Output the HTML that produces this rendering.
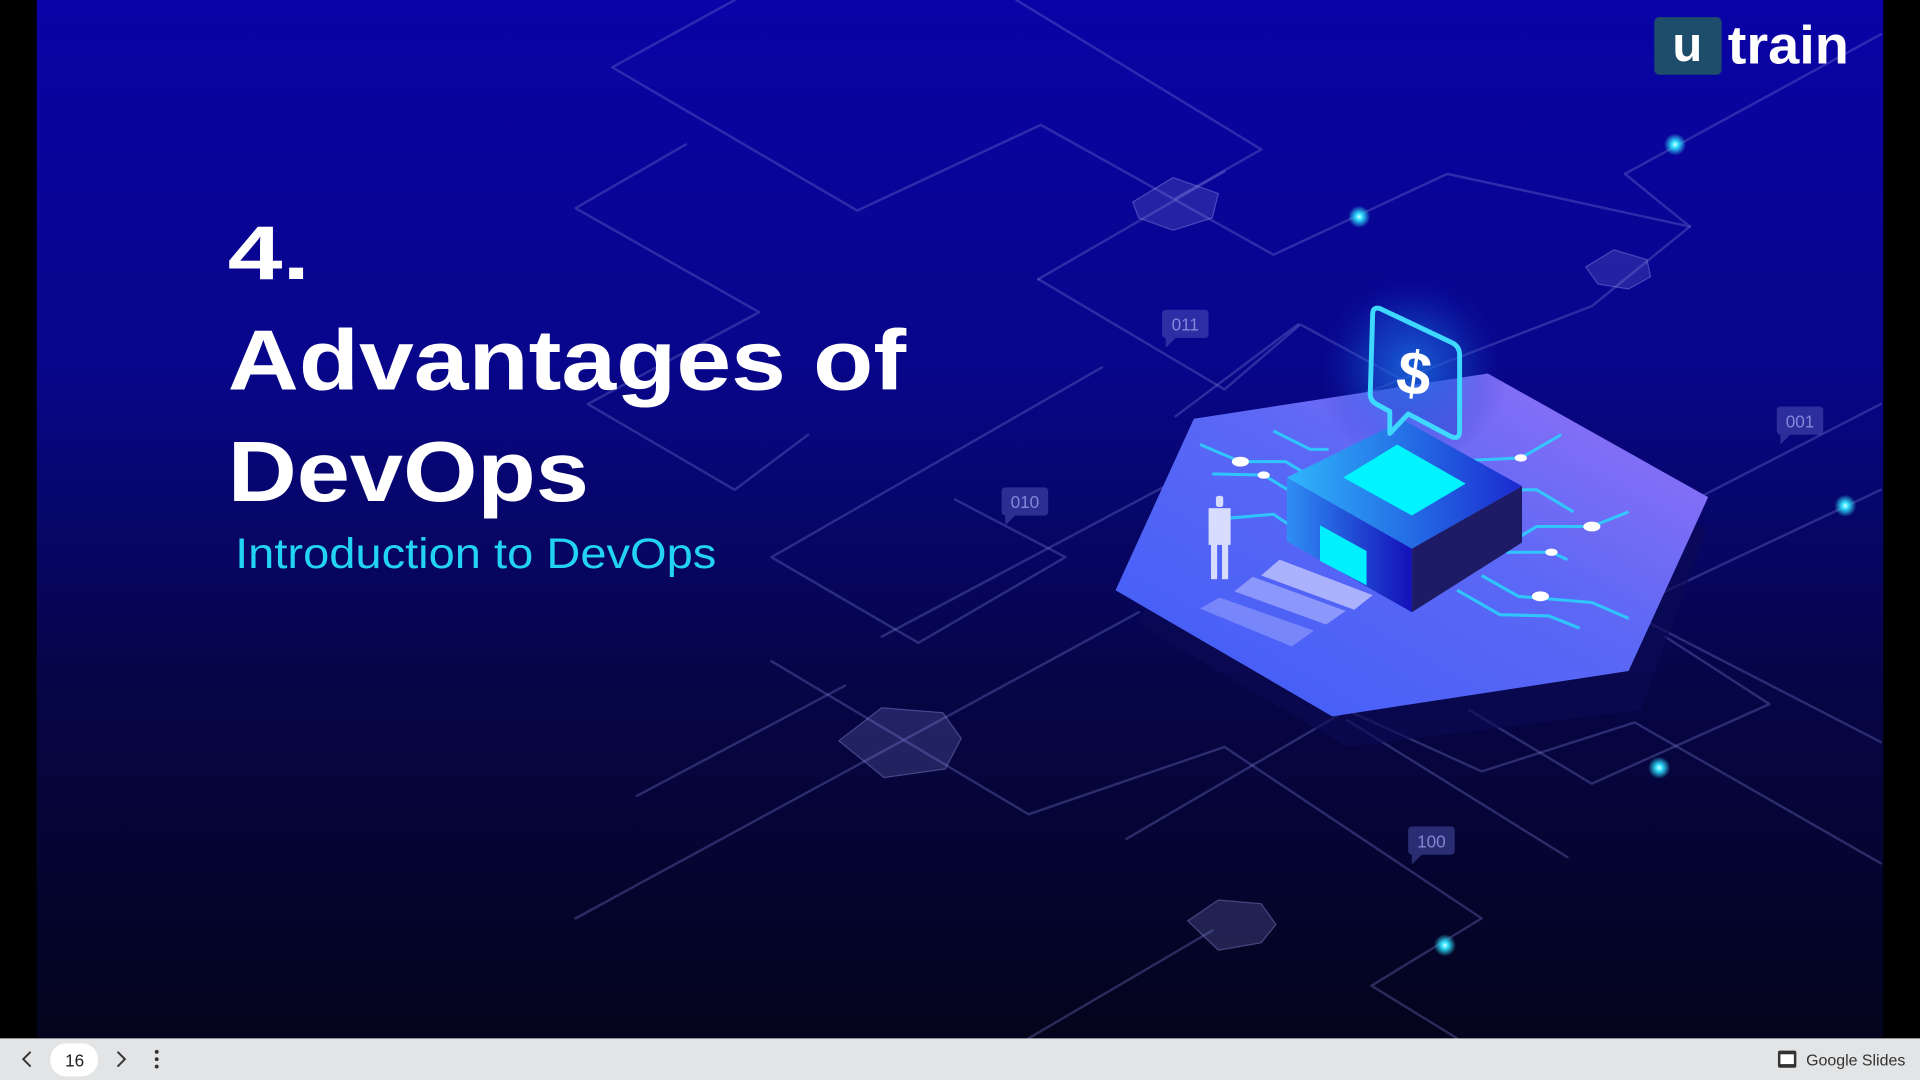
<!DOCTYPE html>
<html><head><meta charset="utf-8"><style>
html,body{margin:0;padding:0;width:1920px;height:1080px;overflow:hidden;background:#000}
svg{display:block}
</style></head><body>
<svg width="1920" height="1080" viewBox="0 0 1568 882" preserveAspectRatio="none" xmlns="http://www.w3.org/2000/svg">
<defs>
<linearGradient id="bg" x1="0" y1="0" x2="0" y2="1">
<stop offset="0" stop-color="#0a03a6"/>
<stop offset="0.35" stop-color="#08068a"/>
<stop offset="0.65" stop-color="#060548"/>
<stop offset="1" stop-color="#04041c"/>
</linearGradient>
<linearGradient id="hex" x1="0" y1="1" x2="1" y2="0">
<stop offset="0" stop-color="#3f5cf8"/>
<stop offset="0.55" stop-color="#5c68f5"/>
<stop offset="1" stop-color="#9b72f6"/>
</linearGradient>
<linearGradient id="lf" x1="0" y1="0" x2="1" y2="0">
<stop offset="0" stop-color="#2f8ff5"/>
<stop offset="1" stop-color="#1410b8"/>
</linearGradient>
<linearGradient id="tp" x1="0" y1="0" x2="1" y2="0">
<stop offset="0" stop-color="#2fb6fb"/>
<stop offset="1" stop-color="#1a2ad0"/>
</linearGradient>
<radialGradient id="glow">
<stop offset="0" stop-color="#1fa0ff" stop-opacity="0.7"/>
<stop offset="0.6" stop-color="#1460e0" stop-opacity="0.25"/>
<stop offset="1" stop-color="#0a08a0" stop-opacity="0"/>
</radialGradient>
<radialGradient id="dot">
<stop offset="0" stop-color="#d8ffff"/>
<stop offset="0.3" stop-color="#30e0ff"/>
<stop offset="1" stop-color="#30e0ff" stop-opacity="0"/>
</radialGradient>
</defs>
<rect x="0" y="0" width="1568" height="882" fill="#000"/>
<rect x="30" y="0" width="1508" height="848" fill="url(#bg)"/>
<g fill="none" stroke="#7d7fd8" stroke-opacity="0.32" stroke-width="2" stroke-linejoin="round" stroke-linecap="round">
<path d="M600 0 L500 55 L700 172 L850 102 L1040 208 L1182 142 L1380 185 L1327 142 L1536 28"/>
<path d="M830 0 L1030 122 L960 162"/>
<path d="M848 228 L1000 318 L1062 265 L1200 340"/>
<path d="M848 228 L1000 140"/>
<path d="M560 118 L470 170 L620 255 L480 330 L600 400 L660 355"/>
<path d="M780 408 L870 455 L750 525 L630 455 L900 300"/>
<path d="M630 540 L840 665 L1000 610 L1210 750 L1120 805 L1190 848"/>
<path d="M920 685 L1100 580 L1210 630 L1335 590 L1536 705"/>
<path d="M470 750 L930 500"/>
<path d="M720 520 L1040 350 L1300 250 L1380 185"/>
<path d="M960 340 L1060 265"/>
<path d="M1390 405 L1536 330"/>
<path d="M1345 490 L1536 400"/>
<path d="M1330 500 L1536 606"/>
<path d="M1360 520 L1445 575 L1300 640 L1200 580"/>
<path d="M840 848 L990 760"/>
<path d="M1100 588 L1280 700"/>
<path d="M520 650 L690 560"/>
</g>
<g fill="#8a8fe0" fill-opacity="0.22" stroke="#a0a4f0" stroke-opacity="0.35">
<polygon points="925,165 958,145 995,158 990,178 958,188 930,178"/>
<polygon points="685,605 720,578 770,582 785,603 772,628 722,635"/>
<polygon points="970,752 995,735 1030,738 1042,755 1030,770 995,776"/>
<polygon points="1295,218 1318,204 1345,212 1348,226 1330,236 1305,232"/>
</g>
<g fill="#5a5fc0" fill-opacity="0.45" font-family="Liberation Sans, sans-serif" font-size="13">
<rect x="949" y="253" width="38" height="23" rx="3"/><polygon points="952,276 960,276 952,284"/>
<rect x="818" y="398" width="38" height="23" rx="3"/><polygon points="821,421 829,421 821,429"/>
<rect x="1451" y="332" width="38" height="23" rx="3"/><polygon points="1454,355 1462,355 1454,363"/>
<rect x="1150" y="675" width="38" height="23" rx="3"/><polygon points="1153,698 1161,698 1153,706"/>
</g>
<g fill="#9a9ee8" fill-opacity="0.8" font-family="Liberation Sans, sans-serif" font-size="14" text-anchor="middle">
<text x="968" y="270">011</text><text x="837" y="415">010</text><text x="1470" y="349">001</text><text x="1169" y="692">100</text>
</g>
<g>
<circle cx="1110" cy="177" r="9" fill="url(#dot)"/>
<circle cx="1368" cy="118" r="9" fill="url(#dot)"/>
<circle cx="1507" cy="413" r="9" fill="url(#dot)"/>
<circle cx="1355" cy="627" r="9" fill="url(#dot)"/>
<circle cx="1180" cy="772" r="9" fill="url(#dot)"/>
</g>
<!-- platform shadow -->
<polygon points="930,510 990,370 1395,430 1340,580 1100,610" fill="#0c0a55" opacity="0.6"/>
<polygon points="975,342 1215,305 1395,406 1330,548 1088,585 911,482" fill="url(#hex)"/>
<circle cx="1153" cy="300" r="80" fill="url(#glow)"/>
<!-- circuit lines -->
<g fill="none" stroke="#29d6ff" stroke-width="2.5" opacity="0.85">
<path d="M980 363 L1013 377 L1050 377 L1075 392"/>
<path d="M990 387 L1032 388 L1060 405"/>
<path d="M1005 423 L1040 420 L1055 430"/>
<path d="M1040 352 L1070 367 L1085 367"/>
<path d="M1200 376 L1242 374 L1275 355"/>
<path d="M1240 400 L1255 400 L1285 418"/>
<path d="M1235 442 L1255 430 L1300 430 L1330 418"/>
<path d="M1230 451 L1267 451 L1280 457"/>
<path d="M1210 470 L1240 487 L1300 492 L1330 505"/>
<path d="M1190 482 L1225 502 L1265 503 L1290 513"/>
</g>
<g fill="#fff">
<ellipse cx="1013" cy="377" rx="7" ry="4"/><ellipse cx="1032" cy="388" rx="5" ry="3"/>
<ellipse cx="1242" cy="374" rx="5" ry="3"/><ellipse cx="1300" cy="430" rx="7" ry="4"/>
<ellipse cx="1267" cy="451" rx="5" ry="3"/><ellipse cx="1258" cy="487" rx="7" ry="4"/>
</g>
<!-- steps -->
<g fill="#c8ccff">
<polygon points="1045,457 1121,486 1106,498 1030,470" opacity="0.75"/>
<polygon points="1023,471 1099,499 1083,510 1008,483" opacity="0.5"/>
<polygon points="996,488 1073,515 1055,528 980,497" opacity="0.35"/>
</g>
<!-- person -->
<g fill="#d8dcff">
<rect x="993" y="405" width="6" height="9" rx="2"/>
<rect x="987" y="415" width="18" height="30"/>
<rect x="989" y="440" width="5" height="33"/><rect x="998" y="440" width="5" height="33"/>
</g>
<!-- box -->
<polygon points="1051,390 1153,448 1153,500 1051,442" fill="url(#lf)"/>
<polygon points="1153,448 1243,397 1243,443 1153,500" fill="#1d1a66"/>
<polygon points="1051,390 1146,343 1243,397 1153,448" fill="url(#tp)"/>
<polygon points="1097,390 1141,363 1197,395 1153,421" fill="#00f4ff"/>
<polygon points="1078,429 1116,450 1116,478 1078,458" fill="#00f0ff"/>
<!-- bubble -->
<path d="M1127 252 Q1121 250 1121 257 L1119 322 Q1119 327 1124 330 L1135 336 L1135 354 L1150 338 L1184 356 Q1192 360 1192 352 L1192 290 Q1192 283 1186 280 Z" fill="#1b40c8" fill-opacity="0.35" stroke="#3fd8ff" stroke-width="4" stroke-linejoin="round"/>
<text x="1155" y="322" font-family="Liberation Sans, sans-serif" font-weight="bold" font-size="50" fill="#fff" text-anchor="middle" transform="rotate(8 1155 305)">$</text>
<!-- title -->
<g font-family="Liberation Sans, sans-serif" font-weight="bold" fill="#fff">
<text x="186" y="228" font-size="62" textLength="67" lengthAdjust="spacingAndGlyphs">4.</text>
<text x="186" y="318" font-size="70" textLength="554" lengthAdjust="spacingAndGlyphs">Advantages of</text>
<text x="186" y="409" font-size="70" textLength="295" lengthAdjust="spacingAndGlyphs">DevOps</text>
</g>
<text x="192" y="464" font-family="Liberation Sans, sans-serif" font-size="35" fill="#22d3f2" textLength="393" lengthAdjust="spacingAndGlyphs">Introduction to DevOps</text>
<!-- logo -->
<rect x="1351" y="14" width="55" height="47" rx="4" fill="#1e4d6b"/>
<text x="1378" y="50" font-family="Liberation Sans, sans-serif" font-weight="bold" font-size="40" fill="#fff" text-anchor="middle">u</text>
<text x="1411" y="52" font-family="Liberation Sans, sans-serif" font-weight="bold" font-size="44" fill="#fff" textLength="99" lengthAdjust="spacingAndGlyphs">train</text>
<!-- bottom bar -->
<rect x="0" y="848" width="1568" height="34" fill="#e3e4e6"/>
<path d="M25 859 L19 865 L25 871" fill="none" stroke="#333" stroke-width="1.6"/>
<rect x="41" y="852" width="39" height="27" rx="13" fill="#fff"/>
<text x="61" y="871" font-family="Liberation Sans, sans-serif" font-size="14" fill="#222" text-anchor="middle">16</text>
<path d="M96 859 L102 865 L96 871" fill="none" stroke="#333" stroke-width="1.6"/>
<circle cx="128" cy="859" r="1.6" fill="#333"/><circle cx="128" cy="865" r="1.6" fill="#333"/><circle cx="128" cy="871" r="1.6" fill="#333"/>
<rect x="1452" y="858" width="15" height="14" rx="1.5" fill="#333"/><rect x="1454" y="861" width="11" height="8" fill="#fff"/>
<text x="1475" y="870" font-family="Liberation Sans, sans-serif" font-size="13" fill="#333" textLength="81" lengthAdjust="spacingAndGlyphs">Google Slides</text>
</svg>
</body></html>
